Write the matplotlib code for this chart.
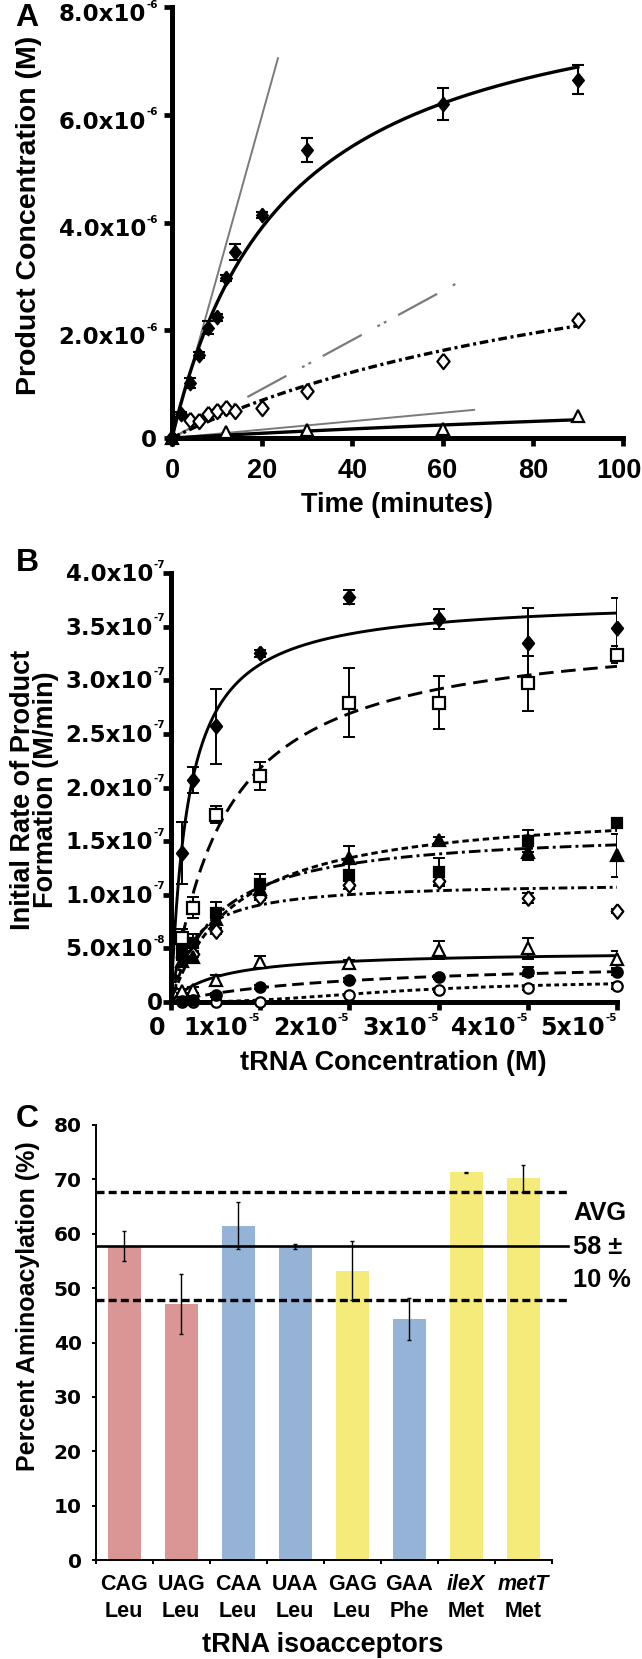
import numpy as np
import matplotlib
matplotlib.use('Agg')
import matplotlib.pyplot as plt
import matplotlib.transforms as mtransforms

plt.rcParams['font.family'] = ['Liberation Sans', 'DejaVu Sans']
plt.rcParams['mathtext.fontset'] = 'dejavusans'

# ---------------- Panel A data (time in min, product in 1e-6 M) ----------------
a_time_filled = [0, 2, 4, 6, 8, 10, 12, 14, 20, 30, 60, 90]
a_prod_filled = [0, 0.44, 1.02, 1.54, 2.05, 2.24, 2.97, 3.45, 4.14, 5.34, 6.20, 6.65]
a_err_filled = [0, 0.05, 0.10, 0.06, 0.12, 0.06, 0.05, 0.15, 0.05, 0.22, 0.29, 0.27]
a_time_open = [0, 4, 6, 8, 10, 12, 14, 20, 30, 60, 90]
a_prod_open = [0, 0.34, 0.31, 0.44, 0.51, 0.55, 0.50, 0.56, 0.87, 1.43, 2.19]
a_time_tri = [0, 12, 30, 60, 90]
a_prod_tri = [0, 0.12, 0.15, 0.17, 0.40]
# hyperbolic fits: Pmax (1e-6 M), K (min)
a_fit_filled = (8.8, 25.0)
a_fit_open = (4.74, 115.0)
a_fit_tri = (1.76, 377.0)
# initial-rate lines: slope (1e-6 M/min), end time (min)
a_init_slope = [0.300, 0.0455, 0.0078]
a_init_end = [23.5, 63.0, 67.0]
a_yticks = [0, 2e-6, 4e-6, 6e-6, 8e-6]
a_ytick_base = ['0', '2.0x10', '4.0x10', '6.0x10', '8.0x10']
a_ytick_exp = ['', '-6', '-6', '-6', '-6']
a_xticks = [0, 20, 40, 60, 80, 100]
a_xtick_labels = ['0', '20', '40', '60', '80', '100']

# ---------------- Panel B data (tRNA in 1e-5 M, rate in 1e-7 M/min) ----------------
b_conc = [0.125, 0.25, 0.5, 1, 2, 3, 4, 5]
b_fdiam = [1.39, 2.07, 2.57, 3.25, 3.775, 3.57, 3.35, 3.49]
b_fdiam_err = [0.29, 0.125, 0.35, 0.03, 0.065, 0.09, 0.32, 0.28]
b_osq = [0.60, 0.88, 1.745, 2.11, 2.79, 2.79, 2.97, 3.24]
b_osq_err = [0.08, 0.10, 0.08, 0.13, 0.32, 0.245, 0.26, 0.08]
b_fsq = [0.45, 0.55, 0.83, 1.10, 1.18, 1.21, 1.50, 1.67]
b_fsq_err = [0.05, 0.08, 0.10, 0.09, 0.05, 0.13, 0.10, 0.05]
b_ftri = [0.38, 0.42, 0.77, 1.05, 1.34, 1.51, 1.40, 1.37]
b_ftri_err = [0.05, 0.05, 0.05, 0.05, 0.11, 0.03, 0.08, 0.20]
b_odiam = [0.42, 0.45, 0.66, 0.98, 1.09, 1.13, 0.97, 0.85]
b_odiam_err = [0.03, 0.03, 0.03, 0.03, 0.04, 0.04, 0.05, 0.02]
b_otri = [0.10, 0.11, 0.205, 0.376, 0.36, 0.485, 0.50, 0.40]
b_otri_err = [0.02, 0.03, 0.05, 0.05, 0.03, 0.08, 0.10, 0.08]
b_fcirc = [0.01, 0.02, 0.065, 0.143, 0.205, 0.236, 0.283, 0.28]
b_fcirc_err = [0.01, 0.01, 0.02, 0.02, 0.02, 0.02, 0.04, 0.03]
b_ocirc = [0.0, 0.0, 0.0, 0.003, 0.065, 0.112, 0.128, 0.149]
b_ocirc_err = [0.0, 0.0, 0.0, 0.01, 0.01, 0.02, 0.02, 0.03]
# Michaelis-Menten fits: Vmax (1e-7 M/min), Km (1e-5 M)
b_fit_fdiam = (3.77, 0.1975)
b_fit_osq = (3.513, 0.612)
b_fit_fsq = (1.833, 0.729)
b_fit_ftri = (1.614, 0.508)
b_fit_odiam = (1.121, 0.239)
b_fit_otri = (0.477, 0.519)
b_fit_fcirc = (0.393, 1.944)
b_fit_ocirc = (0.20, 2.5, 2.5)  # Vmax, K, Hill n
b_yticks = [0, 0.5e-7, 1.0e-7, 1.5e-7, 2.0e-7, 2.5e-7, 3.0e-7, 3.5e-7, 4.0e-7]
b_ytick_base = ['0', '5.0x10', '1.0x10', '1.5x10', '2.0x10', '2.5x10', '3.0x10', '3.5x10', '4.0x10']
b_ytick_exp = ['', '-8', '-7', '-7', '-7', '-7', '-7', '-7', '-7']
b_xticks = [0, 1e-5, 2e-5, 3e-5, 4e-5, 5e-5]
b_xtick_base = ['0', '1x10', '2x10', '3x10', '4x10', '5x10']
b_xtick_exp = ['', '-5', '-5', '-5', '-5', '-5']

# ---------------- Panel C data ----------------
c_codons = ['CAG', 'UAG', 'CAA', 'UAA', 'GAG', 'GAA', 'ileX', 'metT']
c_aminoacids = ['Leu', 'Leu', 'Leu', 'Leu', 'Leu', 'Phe', 'Met', 'Met']
c_percent = [57.8, 47.1, 61.5, 57.7, 53.2, 44.4, 71.3, 70.2]
c_err = [2.75, 5.5, 4.35, 0.5, 5.4, 3.85, 0.1, 2.45]
c_avg = 57.7
c_upper = 67.6
c_lower = 47.9
c_yticks = [0, 10, 20, 30, 40, 50, 60, 70, 80]

# styles
c_colors = ['#D99694', '#D99694', '#95B3D7', '#95B3D7', '#F5EB7B', '#95B3D7', '#F5EB7B', '#F5EB7B']
c_italic = [False, False, False, False, False, False, True, True]

W, H = 642, 1659
fig = plt.figure(figsize=(W / 100, H / 100), dpi=100)
PT = 72 / 100  # points per pixel


def fx(px):
    return px / W


def fy(py):
    return 1 - py / H


def px_axes(l, r, t, b):
    return fig.add_axes([l / W, 1 - b / H, (r - l) / W, (b - t) / H])


axA = px_axes(172, 623, 7, 438)
axB = px_axes(171, 617, 573, 1002)
axC = px_axes(95.7, 551.7, 1125, 1560)

diamond = [(0, 1), (0.8, 0), (0, -1), (-0.8, 0), (0, 1)]

for ax in (axA, axB):
    for s in ('top', 'right'):
        ax.spines[s].set_visible(False)
    for s in ('left', 'bottom'):
        ax.spines[s].set_linewidth(3.6)
        ax.spines[s].set_capstyle('projecting')
    ax.tick_params(direction='out', length=6, width=3.4, labelleft=False, labelbottom=False)

TICKFONT = dict(fontfamily='DejaVu Sans', fontweight='bold')


def sci_label(ax, trans, x, y, base, exp, dx, dy, size, exp_size=7.5, ha='right'):
    """Tick label = bold mantissa plus a small raised exponent; dx, dy in pixels."""
    off = mtransforms.offset_copy(trans, fig=fig, x=dx * PT, y=-dy * PT, units='points')
    t = ax.text(x, y, base, transform=off, ha=ha, va='baseline', fontsize=size,
                clip_on=False, **TICKFONT)
    if exp:
        ax.annotate(exp, xy=(1.0, 0.93), xycoords=t, xytext=(0.4, 0),
                    textcoords='offset points', ha='left', va='center',
                    fontsize=exp_size, annotation_clip=False, **TICKFONT)
    return t


def hyper(t, p):
    return p[0] * t / (p[1] + t)


# ---------------- Panel A ----------------
tt = np.linspace(0, 90, 300)
gcol = '#7a7a7a'
axA.plot([0, a_init_end[0]], [0, a_init_slope[0] * a_init_end[0] * 1e-6], color=gcol, lw=1.4, zorder=1)
axA.plot([0, a_init_end[1]], [0, a_init_slope[1] * a_init_end[1] * 1e-6], color=gcol, lw=1.6,
         linestyle=(0, (20, 8, 1.3, 2.0, 1.3, 6)), zorder=1)
axA.plot([0, a_init_end[2]], [0, a_init_slope[2] * a_init_end[2] * 1e-6], color=gcol, lw=1.4, zorder=1)

axA.plot(tt, hyper(tt, a_fit_filled) * 1e-6, color='black', lw=2.4, zorder=2)
axA.plot(tt, hyper(tt, a_fit_open) * 1e-6, color='black', lw=2.4,
         linestyle=(0, (2.6, 1.1, 0.9, 1.1)), zorder=2)
axA.plot(tt, hyper(tt, a_fit_tri) * 1e-6, color='black', lw=2.4, zorder=2)

axA.errorbar(a_time_filled, np.array(a_prod_filled) * 1e-6, yerr=np.array(a_err_filled) * 1e-6,
             fmt='none', ecolor='black', elinewidth=1.5, capsize=4.3, capthick=1.5, zorder=2.5)
axA.plot(a_time_tri, np.array(a_prod_tri) * 1e-6, linestyle='none', marker='^', ms=8.5,
         mfc='white', mec='black', mew=1.6, zorder=3, clip_on=False)
axA.plot(a_time_open, np.array(a_prod_open) * 1e-6, linestyle='none', marker=diamond, ms=11,
         mfc='white', mec='black', mew=1.6, zorder=3, clip_on=False)
axA.plot(a_time_filled, np.array(a_prod_filled) * 1e-6, linestyle='none', marker=diamond, ms=10.5,
         mfc='black', mec='black', mew=1, zorder=4, clip_on=False)

axA.set_xlim(0, 100)
axA.set_ylim(0, 8e-6)
axA.set_xticks(a_xticks)
axA.set_yticks(a_yticks)
tyA = axA.get_yaxis_transform()
for v, b, e in zip(a_yticks, a_ytick_base, a_ytick_exp):
    if e:
        sci_label(axA, tyA, 0, v, b, e, dx=-26, dy=14, size=16.5)
    else:
        sci_label(axA, tyA, 0, v, b, e, dx=-15, dy=9, size=16.5)
txA = axA.get_xaxis_transform()
for v, lab in zip(a_xticks, a_xtick_labels):
    shift = -4 if v == 100 else 0
    offA = mtransforms.offset_copy(txA, fig=fig, x=shift * PT, y=-40 * PT, units='points')
    axA.text(v, 0, lab, transform=offA, ha='center', va='baseline', fontsize=19.5,
             fontweight='bold', clip_on=False)

# ---------------- Panel B ----------------
bx = np.array(b_conc) * 1e-5
xs = np.linspace(0, 5, 500)


def mm(x, p):
    return p[0] * x / (p[1] + x)


def hill(x, p):
    return p[0] * x ** p[2] / (p[1] ** p[2] + x ** p[2])


b_series = [
    (b_fdiam, b_fdiam_err, mm(xs, b_fit_fdiam), diamond, 10, 'black', '-'),
    (b_osq, b_osq_err, mm(xs, b_fit_osq), 's', 8, 'white', (0, (5.0, 2.6))),
    (b_fsq, b_fsq_err, mm(xs, b_fit_fsq), 's', 7.5, 'black', (0, (2.2, 1.3))),
    (b_ftri, b_ftri_err, mm(xs, b_fit_ftri), '^', 8, 'black', (0, (4.0, 1.4, 1.0, 1.4))),
    (b_odiam, b_odiam_err, mm(xs, b_fit_odiam), diamond, 10.5, 'white', (0, (3.0, 1.3, 1.0, 1.3))),
    (b_otri, b_otri_err, mm(xs, b_fit_otri), '^', 8.5, 'white', '-'),
    (b_fcirc, b_fcirc_err, mm(xs, b_fit_fcirc), 'o', 7.5, 'black', (0, (4.0, 2.0))),
    (b_ocirc, b_ocirc_err, hill(xs, b_fit_ocirc), 'o', 7.5, 'white', (0, (1.6, 1.2))),
]
for yv, ye, fit, mk, ms, fc, ls in b_series:
    axB.plot(xs * 1e-5, fit * 1e-7, color='black', lw=2.1, linestyle=ls, zorder=2)
    axB.errorbar(bx, np.array(yv) * 1e-7, yerr=np.array(ye) * 1e-7, fmt='none', ecolor='black',
                 elinewidth=1.4, capsize=4.3, capthick=1.4, zorder=2.5)
for yv, ye, fit, mk, ms, fc, ls in b_series:
    axB.plot(bx, np.array(yv) * 1e-7, linestyle='none', marker=mk, ms=ms, mfc=fc, mec='black',
             mew=1.6, zorder=3 if fc == 'white' else 4, clip_on=False)

axB.set_xlim(0, 5e-5)
axB.set_ylim(0, 4e-7)
axB.set_xticks(b_xticks)
axB.set_yticks(b_yticks)
tyB = axB.get_yaxis_transform()
for v, b, e in zip(b_yticks, b_ytick_base, b_ytick_exp):
    if e:
        sci_label(axB, tyB, 0, v, b, e, dx=-18, dy=8, size=16.5)
    else:
        sci_label(axB, tyB, 0, v, b, e, dx=-8, dy=8, size=16.5)
txB = axB.get_xaxis_transform()
for v, b, e in zip(b_xticks, b_xtick_base, b_xtick_exp):
    if e:
        sci_label(axB, txB, v, 0, b, e, dx=-12, dy=33, size=17)
    else:
        sci_label(axB, txB, v, 0, b, e, dx=-6, dy=33, size=17)

# ---------------- Panel C ----------------
cx = np.arange(len(c_codons))
axC.bar(cx, c_percent, width=0.585, color=c_colors, zorder=2)
axC.errorbar(cx, c_percent, yerr=c_err, fmt='none', ecolor='black', elinewidth=1.0,
             capsize=1.3, capthick=1.0, zorder=3)
x_end = 7.79
axC.plot([-0.5, x_end], [c_avg, c_avg], color='black', lw=1.9, clip_on=False, zorder=4)
for yv in (c_upper, c_lower):
    axC.plot([-0.5, x_end], [yv, yv], color='black', lw=2.4, linestyle=(0, (2.4, 1.25)),
             clip_on=False, zorder=4)
axC.set_xlim(-0.5, 7.5)
axC.set_ylim(0, 80)
for s in ('top', 'right'):
    axC.spines[s].set_visible(False)
for s in ('left', 'bottom'):
    axC.spines[s].set_linewidth(1.4)
axC.set_xticks(np.arange(-0.5, 8, 1))
axC.set_xticklabels([])
axC.set_yticks(c_yticks)
axC.set_yticklabels([str(v) for v in c_yticks], fontsize=14.5, **TICKFONT)
axC.tick_params(direction='out', length=3, width=1.4)
axC.tick_params(axis='y', pad=7)

trans = mtransforms.blended_transform_factory(axC.transData, fig.transFigure)
for i, (cod, aa, it) in enumerate(zip(c_codons, c_aminoacids, c_italic)):
    axC.text(i, fy(1590), cod, transform=trans, ha='center', va='baseline', fontsize=15.5,
             fontweight='bold', fontstyle='italic' if it else 'normal')
    axC.text(i, fy(1617), aa, transform=trans, ha='center', va='baseline', fontsize=15.5,
             fontweight='bold')

# ---------------- labels ----------------
fig.text(fx(27), fy(18), 'A', ha='center', va='center', fontsize=23, fontweight='bold')
fig.text(fx(27), fy(563), 'B', ha='center', va='center', fontsize=23, fontweight='bold')
fig.text(fx(27), fy(1119), 'C', ha='center', va='center', fontsize=23, fontweight='bold')

fig.text(fx(29), fy(215), 'Product Concentration (M)', rotation=90, ha='center', va='center',
         fontsize=20.5, fontweight='bold')
fig.text(fx(397), fy(512), 'Time (minutes)', ha='center', va='baseline', fontsize=19.5,
         fontweight='bold')
fig.text(fx(35), fy(790), 'Initial Rate of Product\nFormation (M/min)', rotation=90,
         ha='center', va='center', fontsize=19.5, fontweight='bold', linespacing=0.85,
         multialignment='center')
fig.text(fx(393), fy(1070), 'tRNA Concentration (M)', ha='center', va='baseline', fontsize=19.5,
         fontweight='bold')
fig.text(fx(28), fy(1306), 'Percent Aminoacylation (%)', rotation=90, ha='center', va='center',
         fontsize=18, fontweight='bold')
fig.text(fx(323), fy(1652), 'tRNA isoacceptors', ha='center', va='baseline', fontsize=19.5,
         fontweight='bold')

fig.text(fx(573), fy(1220), 'AVG', ha='left', va='baseline', fontsize=18.3, fontweight='bold')
fig.text(fx(573), fy(1254), '58 \u00b1', ha='left', va='baseline', fontsize=18.3, fontweight='bold')
fig.text(fx(573), fy(1286.7), '10 %', ha='left', va='baseline', fontsize=18.3, fontweight='bold')

fig.savefig('out.png', dpi=100)
